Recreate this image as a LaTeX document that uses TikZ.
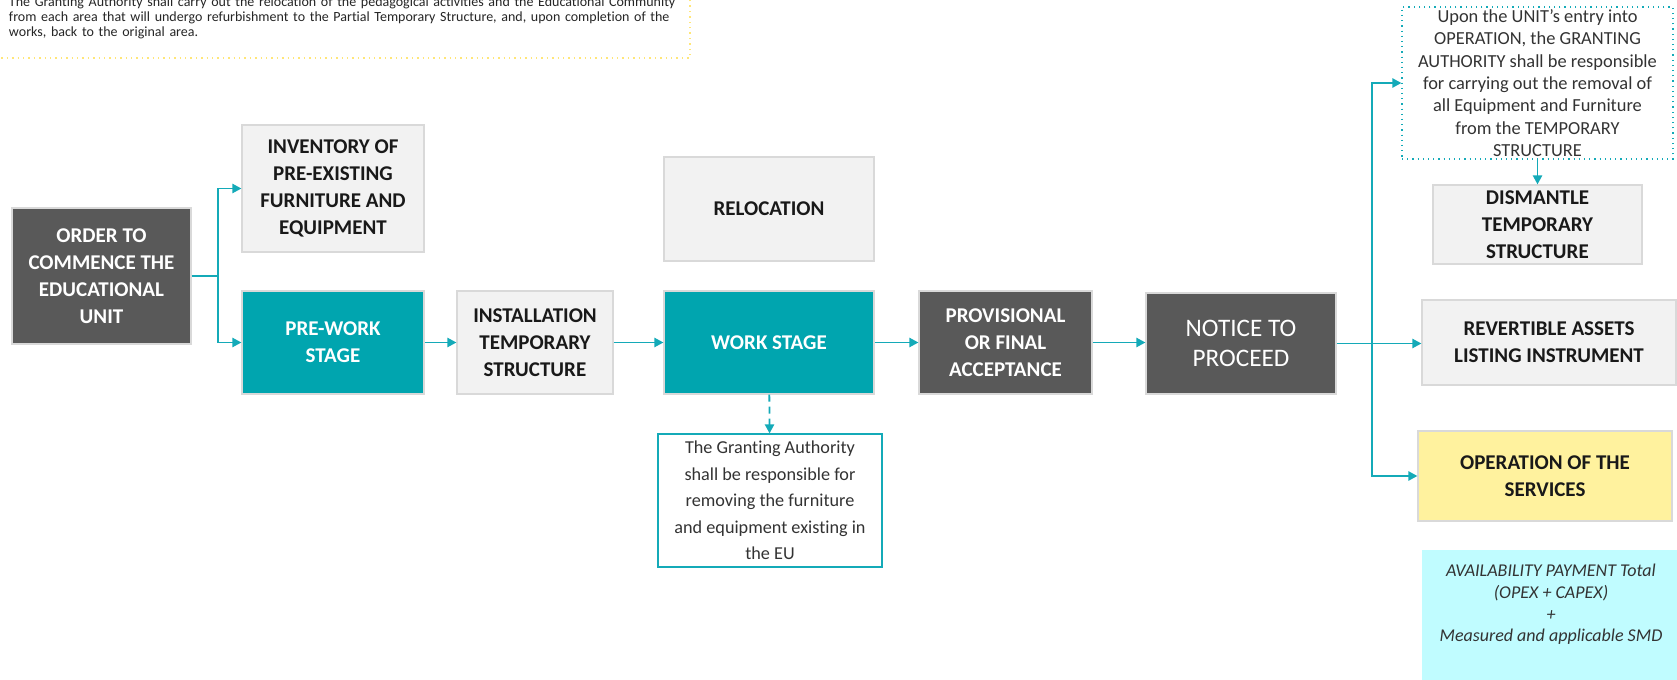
\documentclass[tikz,border=0pt]{standalone}
\usepackage{fontspec}
\setmainfont{Carlito}[Ligatures=NoCommon]
\usepackage{tikz}
\usetikzlibrary{arrows.meta}
\usetikzlibrary{positioning}

\definecolor{BoxDark}{RGB}{89,89,89}
\definecolor{BoxTeal}{RGB}{0,165,175}
\definecolor{BoxLight}{RGB}{242,242,242}
\definecolor{BoxEdge}{RGB}{217,217,217}
\definecolor{BoxYellow}{RGB}{255,242,158}
\definecolor{BoxCyan}{RGB}{192,252,255}
\definecolor{LinkTeal}{RGB}{20,170,184}
\definecolor{NoteEdge}{RGB}{255,230,120}

\begin{document}
\begin{tikzpicture}[x=0.5pt, y=-0.5pt, >={Triangle[length=4.5pt,width=4.6pt]},
	box/.style={rectangle, draw=BoxEdge, line width=0.6pt, align=center, inner sep=1pt, font=\fontsize{10.5}{13.5}\selectfont\bfseries},
	darkbox/.style={box, fill=BoxDark, text=white},
	tealbox/.style={box, fill=BoxTeal, text=white},
	lightbox/.style={box, fill=BoxLight, text=black!90},
	notebox/.style={rectangle, draw=LinkTeal, fill=white, line width=0.6pt, align=center, inner sep=0pt, text=black!80},
	link/.style={draw=LinkTeal, line width=0.9pt, ->}]
			\useasboundingbox (0,0) rectangle (1677,680);
			\clip (0,0) rectangle (1677,680);
			\node[rectangle, draw=NoteEdge, dotted, line width=0.7pt, fill=white, align=left, text width=334pt, inner xsep=6.5pt, minimum height=40pt, text=black!85, font=\fontsize{7}{7.5}\selectfont] (RelocText) at (343,18) {\mbox{The Granting Authority shall carry out the relocation of the pedagogical activities and the Educational Community}\\\mbox{from each area that will undergo refurbishment to the Partial Temporary Structure, and, upon completion of the}\\works, back to the original area.};
			\node[darkbox, minimum width=89.5pt, minimum height=68pt] (Order) at (101.5,276) {ORDER TO\\COMMENCE THE\\EDUCATIONAL\\UNIT};
			\node[lightbox, minimum width=91pt, minimum height=63.5pt] (Inventory) at (333,188.5) {INVENTORY OF\\PRE-EXISTING\\FURNITURE AND\\EQUIPMENT};
			\node[tealbox, minimum width=91pt, minimum height=51.5pt] (PreWork) at (333,342.5) {PRE-WORK\\STAGE};
			\node[lightbox, minimum width=78pt, minimum height=51.5pt] (Install) at (535,342.5) {INSTALLATION\\TEMPORARY\\STRUCTURE};
			\node[lightbox, minimum width=105pt, minimum height=52pt] (Reloc) at (769,209) {RELOCATION};
			\node[tealbox, minimum width=105pt, minimum height=51.5pt] (Work) at (769,342.5) {WORK STAGE};
			\node[notebox, minimum width=112pt, minimum height=66.5pt, font=\fontsize{9.1}{13.3}\selectfont] (Removal) at (770,500.5) {The Granting Authority\\shall be responsible for\\removing the furniture\\and equipment existing in\\the EU};
			\node[darkbox, minimum width=86.5pt, minimum height=51.5pt] (Accept) at (1005.5,342.5) {PROVISIONAL\\OR FINAL\\ACCEPTANCE};
			\node[darkbox, minimum width=95pt, minimum height=50.5pt, font=\fontsize{12.6}{15}\selectfont] (Notice) at (1241,343.5) {NOTICE TO\\PROCEED};
			\node[notebox, dotted, minimum width=135.5pt, minimum height=76pt, font=\fontsize{9.2}{11.2}\selectfont] (EntryNote) at (1537.5,83) {Upon the UNIT's entry into\\OPERATION, the GRANTING\\AUTHORITY shall be responsible\\for carrying out the removal of\\all Equipment and Furniture\\from the TEMPORARY\\STRUCTURE};
			\node[lightbox, minimum width=104.5pt, minimum height=39.5pt] (Dismantle) at (1537.5,224.5) {DISMANTLE\\TEMPORARY\\STRUCTURE};
			\node[lightbox, minimum width=127pt, minimum height=42.5pt] (Assets) at (1549,342.5) {REVERTIBLE ASSETS\\LISTING INSTRUMENT};
			\node[box, fill=BoxYellow, text=black!90, minimum width=127pt, minimum height=45pt] (Services) at (1545,476) {OPERATION OF THE\\SERVICES};
			\node[rectangle, fill=BoxCyan, align=center, text=black!80, minimum width=129pt, minimum height=67pt, font=\fontsize{9}{10.8}\selectfont\itshape] (Payment) at (1551,617) {AVAILABILITY PAYMENT Total\\(OPEX + CAPEX)\\+\\Measured and applicable SMD\rule[-14pt]{0pt}{0pt}};
			\coordinate (Fork1) at ([xshift=13pt]Order.east);
			\coordinate (Fork2) at ([xshift=17.5pt]Notice.east);
			\draw[link] (Order.east) -- (Fork1) |- (Inventory.west);
			\draw[link] (Fork1) |- (PreWork.west);
			\draw[link] (PreWork) -- (Install);
			\draw[link] (Install) -- (Work);
			\draw[link] (Work) -- (Accept);
			\draw[link] (Accept) -- (Accept -| Notice.west);
			\draw[link, dash pattern=on 3.5pt off 2.5pt] (Work) -- (Removal);
			\draw[link] (Notice) -- (Notice -| Assets.west);
			\draw[link] (Fork2) |- (EntryNote.west);
			\draw[link] (Fork2) |- (Services.west);
			\draw[link] (EntryNote) -- (Dismantle);
		\end{tikzpicture}
\end{document}
